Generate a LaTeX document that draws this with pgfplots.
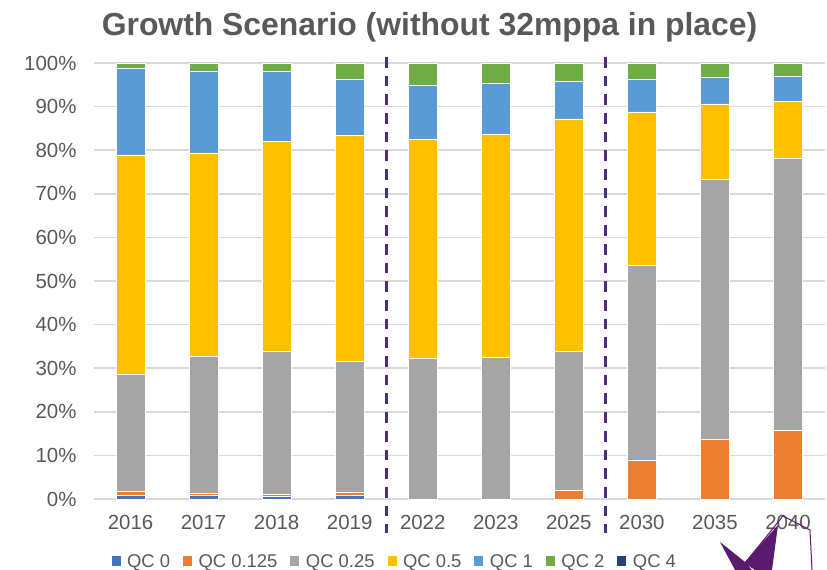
\documentclass[border=0pt]{standalone}
\usepackage{fontspec}
\setmainfont{Liberation Sans}
\usepackage{pgfplots}
\pgfplotsset{compat=1.18}
\usepackage{pgfplotstable}

\definecolor{qczero}{HTML}{4472C4}
\definecolor{qceighth}{HTML}{ED7D31}
\definecolor{qcquarter}{HTML}{A5A5A5}
\definecolor{qchalf}{HTML}{FFC000}
\definecolor{qcone}{HTML}{5B9BD5}
\definecolor{qctwo}{HTML}{70AD47}
\definecolor{qcfour}{HTML}{264478}
\definecolor{txtgray}{HTML}{595959}
\definecolor{gridgray}{HTML}{D9D9D9}
\definecolor{divider}{HTML}{4F2D7F}
\definecolor{logo}{HTML}{5A1A6E}

% share of each QC band per year (per cent), bottom to top
\pgfplotstableread{
idx q0  q0125 q025 q05  q1   q2  q4
0   0.9 0.8   27.0 50.2 19.8 1.3 0
1   0.9 0.5   31.4 46.6 18.8 1.8 0
2   0.7 0.4   32.8 48.2 15.9 2.0 0
3   0.9 0.7   30.0 51.8 12.8 3.8 0
4   0   0     32.3 50.1 12.5 5.1 0
5   0   0     32.4 51.2 11.7 4.7 0
6   0   1.9   32.0 53.3  8.5 4.3 0
7   0   9.0   44.5 35.3  7.5 3.7 0
8   0   13.8  59.5 17.3  6.1 3.3 0
9   0   15.7  62.4 13.1  5.8 3.0 0
}\qcdata

\begin{document}
\begin{tikzpicture}
\useasboundingbox (0,0) rectangle (827bp,570bp);

\node[anchor=base, text=txtgray, font=\bfseries\fontsize{32}{38}\selectfont]
  at (429.5bp,534bp) {Growth Scenario (without 32mppa in place)};

\begin{axis}[
    at={(94bp,71bp)}, anchor=south west,
    scale only axis,
    width=730.5bp, height=436bp,
    ybar stacked,
    bar width=29bp,
    xmin=-0.5, xmax=9.5,
    ymin=0, ymax=100,
    xtick={0,...,9},
    xticklabels={2016,2017,2018,2019,2022,2023,2025,2030,2035,2040},
    ytick={0,10,...,100},
    yticklabels={0\%,10\%,20\%,30\%,40\%,50\%,60\%,70\%,80\%,90\%,100\%},
    ymajorgrids,
    grid style={gridgray, line width=1.5bp},
    axis lines*=left,
    y axis line style={draw=none},
    x axis line style={gridgray, line width=2bp},
    major tick length=0pt,
    ticklabel style={text=txtgray, font=\fontsize{20.5}{24}\selectfont},
    yticklabel style={xshift=-14bp},
    xticklabel style={yshift=-13bp},
    clip=false,
    every axis plot/.append style={draw=white, line width=0.5bp},
    legend columns=-1,
    legend style={
        draw=none, fill=none,
        at={(axis description cs:0.0196,-0.1433)}, anchor=west,
        font=\fontsize{18.5}{22}\selectfont, text=txtgray,
        nodes={inner sep=0pt},
        /tikz/every odd column/.append style={column sep=6.5bp},
        /tikz/every even column/.append style={column sep=13bp},
    },
    legend image code/.code={\fill[#1, draw=none] (0bp,-4.5bp) rectangle (9bp,5bp);},
]
\addplot[fill=qczero]    table[x=idx, y=q0]    {\qcdata};
\addplot[fill=qceighth]  table[x=idx, y=q0125] {\qcdata};
\addplot[fill=qcquarter] table[x=idx, y=q025]  {\qcdata};
\addplot[fill=qchalf]    table[x=idx, y=q05]   {\qcdata};
\addplot[fill=qcone]     table[x=idx, y=q1]    {\qcdata};
\addplot[fill=qctwo]     table[x=idx, y=q2]    {\qcdata};
\addplot[fill=qcfour]    table[x=idx, y=q4]    {\qcdata};
\legend{QC 0, QC 0.125, QC 0.25, QC 0.5, QC 1, QC 2, QC 4}

% period dividers
\draw[divider, line width=3.3bp, dash pattern=on 10.7bp off 8bp]
  (axis cs:3.5,101.4) -- (axis cs:3.5,-7.8);
\draw[divider, line width=3.3bp, dash pattern=on 10.7bp off 8bp]
  (axis cs:6.5,101.4) -- (axis cs:6.5,-7.8);
\end{axis}

% logo fragment, bottom right
\fill[logo] (720bp,28bp) -- (745bp,8bp) -- (752bp,0bp) -- (735bp,0bp) -- cycle;
\fill[logo] (744bp,7bp) -- (778bp,45bp) -- (772bp,0bp) -- (755bp,0bp) -- cycle;
\draw[logo, line width=1bp] (745bp,7bp) -- (783bp,54bp) -- (810bp,40bp) -- (812bp,0bp);
\end{tikzpicture}
\end{document}
